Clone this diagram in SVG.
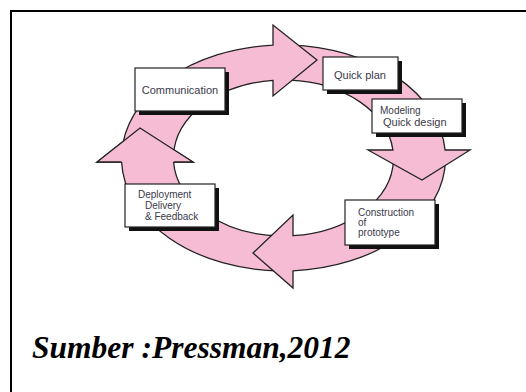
<svg xmlns="http://www.w3.org/2000/svg" width="526" height="392" viewBox="0 0 526 392">
  <style>
    .band { fill: #f6bcd4; stroke: #222; stroke-width: 1.3; stroke-linejoin: miter; }
    .face { fill: none; stroke: #222; stroke-width: 1.3; stroke-linejoin: miter; }
    .box { fill: #fff; stroke: #222; stroke-width: 1.2; }
    .shadow { fill: #111; }
    .lbl { font-family: "Liberation Sans", Arial, sans-serif; font-size: 11px; fill: #3a3a4a; }
    .sm { font-size: 10px; }
    .cap { font-family: "Liberation Serif", "Times New Roman", serif; font-size: 31.5px; font-weight: bold; font-style: italic; fill: #000; }
  </style>

  <rect width="526" height="392" fill="#fff"/>
  <!-- page frame, running off the right and bottom edges -->
  <path d="M11,392 V11 H526" fill="none" stroke="#000" stroke-width="2"/>

  <!-- curved cycle arrows around a common ellipse -->
  <g id="connectors">
    <!-- deployment -> communication (points up) -->
    <path class="band" d="M280,271 A162,113 0 0 1 121.6,162 L97,162 L140,128 L193,162 L173.6,162 A110,78 0 0 0 280,236 Z"/>
    <!-- construction -> deployment (points left) -->
    <path class="band" d="M445.5,160 A162,113 0 0 1 293,270.8 L293,288 L253,253 L293,215 L293,235.7 A110,78 0 0 0 393.5,160 Z"/>
    <!-- quick plan / modeling -> construction (points down) -->
    <path class="band" d="M290,45.1 A162,113 0 0 1 445.1,150 L470,150 L422,180 L368,150 L392.9,150 A110,78 0 0 0 290,80.1 Z"/>
    <!-- communication -> quick plan (points right) -->
    <path class="band" d="M121.7,153 A162,113 0 0 1 273,45.2 L273,25 L317,60 L273,96 L273,80.4 A110,78 0 0 0 173.5,156 Z"/>
    <!-- upward head redrawn over the tail beneath it -->
    <polygon points="97,162 140,128 193,162" fill="#f6bcd4"/>
    <polyline class="face" points="121.6,162 97,162 140,128 193,162 173.6,162"/>
  </g>

  <g id="communication">
    <rect class="shadow" x="139" y="72" width="90" height="43"/>
    <rect class="box" x="135" y="68" width="90" height="43"/>
    <text class="lbl" x="180" y="93.5" text-anchor="middle">Communication</text>
  </g>

  <g id="quick-plan">
    <rect class="shadow" x="327" y="61" width="75" height="33"/>
    <rect class="box" x="323" y="57" width="75" height="33"/>
    <text class="lbl" x="360" y="78.5" text-anchor="middle">Quick plan</text>
  </g>

  <g id="modeling">
    <rect class="shadow" x="376" y="103" width="90" height="34"/>
    <rect class="box" x="372" y="99" width="90" height="34"/>
    <text class="lbl sm" x="380" y="114">Modeling</text>
    <text class="lbl" x="383" y="125.5">Quick design</text>
  </g>

  <g id="construction">
    <rect class="shadow" x="349" y="204" width="90" height="45"/>
    <rect class="box" x="345" y="200" width="90" height="45"/>
    <text class="lbl sm" x="358" y="215.5">Construction</text>
    <text class="lbl sm" x="358" y="225.5">of</text>
    <text class="lbl sm" x="358" y="235.5">prototype</text>
  </g>

  <g id="deployment">
    <rect class="shadow" x="129" y="188" width="90" height="43"/>
    <rect class="box" x="125" y="184" width="90" height="43"/>
    <text class="lbl sm" x="138" y="198">Deployment</text>
    <text class="lbl sm" x="145" y="208.5">Delivery</text>
    <text class="lbl sm" x="145" y="219.5">&amp; Feedback</text>
  </g>

  <text class="cap" x="32" y="358">Sumber :Pressman,2012</text>
</svg>
